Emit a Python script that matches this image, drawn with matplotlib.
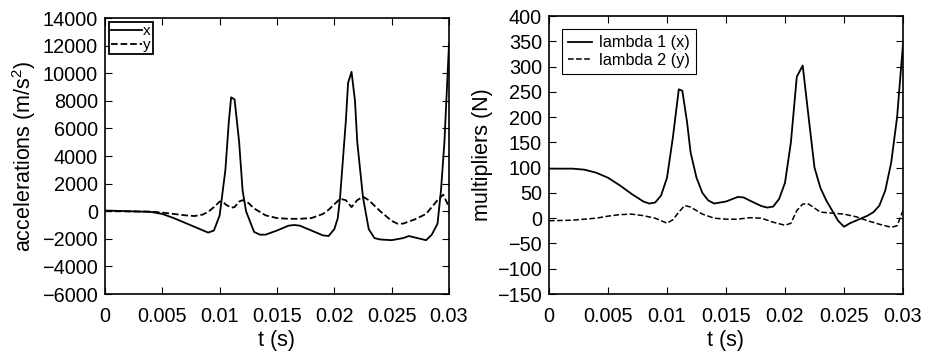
import matplotlib.pyplot as plt

plt.rcParams['font.family'] = ['Liberation Sans', 'DejaVu Sans']
plt.rcParams['mathtext.fontset'] = 'custom'
plt.rcParams['mathtext.rm'] = 'Liberation Sans'

# ---- left panel: accelerations ----
t_ax = [0, 0.004, 0.005, 0.006, 0.007, 0.008, 0.009, 0.0095, 0.01, 0.0105, 0.0108,
        0.011, 0.0113, 0.0117, 0.012, 0.0123, 0.013, 0.0135, 0.014, 0.015, 0.016,
        0.0165, 0.017, 0.018, 0.019, 0.0195, 0.02, 0.0203, 0.0205, 0.021, 0.0212,
        0.0215, 0.0218, 0.022, 0.0225, 0.023, 0.0235, 0.024, 0.025, 0.026, 0.0265,
        0.027, 0.028, 0.0285, 0.029, 0.0293, 0.0296, 0.03]
acc_x = [50, -50, -200, -500, -850, -1200, -1550, -1400, -300, 3000, 6500,
         8250, 8100, 5000, 1500, 0, -1500, -1700, -1700, -1400, -1050,
         -1000, -1050, -1400, -1750, -1800, -1300, -500, 1000, 6500, 9300,
         10100, 8000, 5000, 1000, -1300, -1950, -2050, -2100, -1950, -1800,
         -1900, -2100, -1700, -900, 1500, 5000, 12100]

t_ay = [0, 0.004, 0.005, 0.006, 0.007, 0.0078, 0.0085, 0.009, 0.0095, 0.01, 0.0103,
        0.0105, 0.011, 0.0113, 0.0117, 0.012, 0.0125, 0.013, 0.014, 0.015, 0.016,
        0.017, 0.018, 0.019, 0.0195, 0.02, 0.0205, 0.021, 0.0215, 0.022, 0.0225,
        0.023, 0.024, 0.025, 0.0255, 0.026, 0.027, 0.028, 0.029, 0.0295, 0.03]
acc_y = [0, -30, -100, -200, -300, -350, -250, -50, 300, 700, 700,
         500, 250, 300, 700, 800, 600, 200, -300, -500, -550,
         -550, -500, -200, 100, 500, 900, 800, 300, 800, 1050,
         800, 0, -700, -900, -900, -600, -200, 800, 1200, 300]

# ---- right panel: multipliers ----
t_l1 = [0, 0.002, 0.003, 0.004, 0.005, 0.006, 0.007, 0.008, 0.0085, 0.009, 0.0095,
        0.01, 0.0105, 0.011, 0.0113, 0.0117, 0.012, 0.0125, 0.013, 0.0135, 0.014,
        0.015, 0.016, 0.0165, 0.017, 0.018, 0.0185, 0.019, 0.0195, 0.02, 0.0205,
        0.021, 0.0215, 0.022, 0.0225, 0.023, 0.0235, 0.024, 0.0245, 0.025, 0.0255,
        0.026, 0.0265, 0.027, 0.0275, 0.028, 0.0285, 0.029, 0.0295, 0.03]
lambda1 = [98, 98, 96, 90, 80, 65, 48, 33, 29, 31, 45,
           80, 160, 255, 252, 190, 130, 80, 50, 35, 29,
           33, 42, 41, 35, 24, 21, 23, 38, 70, 150,
           280, 302, 200, 100, 60, 35, 15, -5, -17, -10,
           -5, 0, 5, 12, 25, 55, 110, 200, 345]

t_l2 = [0, 0.002, 0.003, 0.004, 0.005, 0.006, 0.007, 0.008, 0.009, 0.0095, 0.01,
        0.0105, 0.011, 0.0115, 0.012, 0.0125, 0.013, 0.014, 0.015, 0.016, 0.017,
        0.018, 0.019, 0.02, 0.0205, 0.021, 0.0215, 0.022, 0.0225, 0.023, 0.024,
        0.025, 0.026, 0.027, 0.028, 0.029, 0.0295, 0.03]
lambda2 = [-5, -4, -2, 0, 4, 7, 8, 5, 0, -5, -10,
           -3, 12, 25, 22, 15, 8, 0, -2, -2, 1,
           0, -8, -14, -10, 15, 28, 28, 20, 12, 10,
           8, 3, -5, -12, -18, -15, 15]

xticks = [0, 0.005, 0.01, 0.015, 0.02, 0.025, 0.03]
xticklabels = ['0', '0.005', '0.01', '0.015', '0.02', '0.025', '0.03']

fig = plt.figure(figsize=(9.29, 3.57), dpi=100)
ax1 = fig.add_axes([105 / 929, 1 - 294 / 357, 344 / 929, 276 / 357])
ax2 = fig.add_axes([549 / 929, 1 - 294 / 357, 354 / 929, 278 / 357])

for ax in (ax1, ax2):
    ax.tick_params(direction='in', top=True, right=True, labelsize=14.3,
                   length=5, width=0.8, pad=5)
    ax.tick_params(axis='x', pad=9)
    ax.set_xlim(0, 0.03)
    ax.set_xticks(xticks)
    ax.set_xticklabels(xticklabels)
    ax.set_xlabel('t (s)', fontsize=15.5, labelpad=3)
    for s in ax.spines.values():
        s.set_linewidth(1.2)

ax1.plot(t_ax, acc_x, 'k-', lw=1.3, label='x')
ax1.plot(t_ay, acc_y, 'k--', lw=1.3, label='y')
ax1.set_ylim(-6000, 14000)
ax1.set_yticks(range(-6000, 14001, 2000))
ax1.set_ylabel('accelerations (m/s$^2$)', fontsize=15.5, labelpad=3)
ax1.legend(loc='upper left', fontsize=11, handlelength=2.0, handletextpad=0.1,
           borderpad=0.15, labelspacing=0.0, borderaxespad=0.25, fancybox=False,
           edgecolor='k', framealpha=1).get_frame().set_linewidth(1.3)

ax2.plot(t_l1, lambda1, 'k-', lw=1.3, label='lambda 1 (x)')
ax2.plot(t_l2, lambda2, 'k--', lw=1.1, label='lambda 2 (y)')
ax2.set_ylim(-150, 400)
ax2.set_yticks(range(-150, 401, 50))
ax2.set_ylabel('multipliers (N)', fontsize=15.5, labelpad=3)
ax2.legend(loc='upper left', fontsize=11.7, handlelength=1.45, handletextpad=0.4,
           borderpad=0.4, labelspacing=0.15, borderaxespad=0.8, fancybox=False,
           edgecolor='k', framealpha=1).get_frame().set_linewidth(0.8)

fig.savefig('out.png', dpi=100)
